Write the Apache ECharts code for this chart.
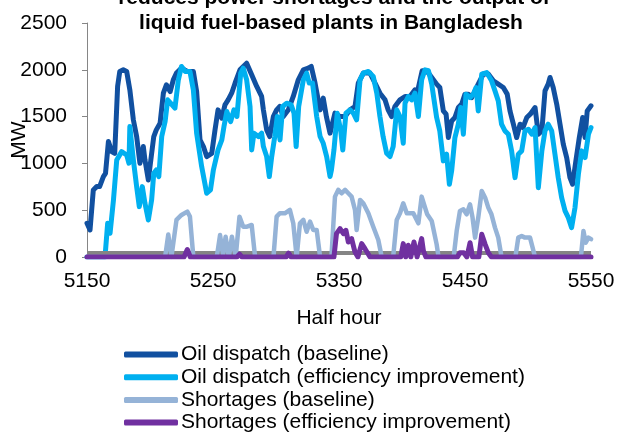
<!DOCTYPE html>
<html>
<head>
<meta charset="utf-8">
<script src="https://cdn.jsdelivr.net/npm/echarts@6/dist/echarts.min.js"></script>
<style>
  html, body { margin: 0; padding: 0; background: #fff; }
  #chart { width: 617px; height: 432px; }
</style>
</head>
<body>
<div id="chart"></div>
<script>
// half-hour index / MW
const oilBaseHH = [5150,5152.4,5155,5157.7,5160,5163,5164.7,5167,5169.6,5172,5174.3,5176,5178.8,5181.5,5184,5186.8,5189.4,5192,5194.7,5196,5198.7,5201,5203,5205,5208,5210.6,5213,5216,5218.5,5221,5225,5229.6,5234.4,5237,5239.7,5242.4,5245,5249,5251.6,5254,5257,5259.5,5262,5264.8,5267.5,5271.4,5276.7,5280.7,5284.7,5288.6,5290,5292.6,5295,5297.9,5300.5,5303,5305.8,5309.8,5313.7,5317.7,5321.7,5325.6,5328,5331,5335,5337.5,5340,5342.9,5346.8,5350.8,5354.8,5358.7,5362.7,5365.3,5369.3,5374.6,5378.6,5382.5,5386.5,5389,5391.8,5394.4,5398.4,5402.4,5406.3,5410.3,5412,5416,5419.6,5423.6,5427.5,5430,5432.8,5435,5436.8,5439.4,5442,5444.7,5447.4,5450,5452.6,5455.4,5458,5460.5,5464.5,5468.5,5472.5,5476.4,5480.4,5483.5,5485.7,5488.4,5491,5493.7,5496,5499,5501.8,5505.6,5508.2,5511,5513.5,5516,5517.5,5520,5522.8,5525.4,5528,5530.7,5533.3,5535.4,5538,5540.7,5543.4,5545.3,5547,5550];
const oilBaseMW = [360,289,716,752,752,859,894,1233,1126,1108,1822,1982,2000,1982,1786,1465,1287,1002,1180,1037,823,1073,1287,1358,1430,1750,1840,1768,1893,1965,2018,1982,1982,1768,1251,1180,1073,1108,1358,1572,1483,1626,1679,1750,1857,2000,2071,1947,1822,1715,1572,1358,1287,1500,1572,1608,1500,1572,1715,1893,2000,2018,2036,1858,1572,1697,1500,1323,1537,1500,1500,1572,1608,1858,1965,1965,1858,1750,1679,1572,1500,1608,1679,1715,1715,1786,1750,1990,1990,1918,1847,1811,1561,1526,1276,1454,1490,1597,1633,1740,1740,1704,1775,1847,1954,1954,1882,1847,1811,1740,1561,1419,1276,1419,1383,1490,1526,1597,1312,1347,1775,1847,1918,1811,1633,1419,1205,1062,848,777,1027,1276,1490,1276,1561,1615];

const oilEffHH = [5150,5164.3,5166.4,5168.3,5171,5173.6,5177.5,5181.5,5183.3,5184,5186.8,5189.4,5191.5,5193.9,5196,5198.7,5201.3,5203,5205,5207,5209.3,5212,5214,5216.4,5219.8,5222.5,5225,5228,5231.7,5234.4,5237,5241,5245,5248,5250.3,5254,5257,5258.7,5261,5264,5266.6,5269,5272,5274,5276.7,5279.4,5280.7,5282.5,5286,5288.6,5290,5292.6,5294.7,5296.6,5299,5301,5303.2,5305.3,5308.5,5312,5314.3,5316,5318,5321.7,5324.3,5326.4,5329,5332.3,5335,5337.5,5340.2,5342.9,5344,5346,5348.6,5351.3,5353,5355.5,5358.7,5361.4,5364,5366.7,5369.3,5373.3,5377.2,5380,5382.5,5385,5387.8,5390.5,5393,5395.8,5398.4,5401,5402.4,5405,5407.6,5410.3,5413,5415.6,5418.3,5421,5423.6,5427.5,5430,5432.8,5435.4,5437.6,5439.4,5442,5444.7,5446.6,5448.7,5450.8,5454,5456.6,5458.8,5460.5,5463.3,5467.2,5471.1,5473.8,5476.4,5479,5481.7,5484.4,5487,5489.7,5492.3,5495,5497.6,5500.3,5503,5505.6,5508.2,5511,5513.5,5516,5518.8,5521.4,5524,5526.7,5529.4,5532,5534.6,5537.3,5540,5542.6,5545.3,5548,5550];
const oilEffMW = [0,0,360,253,610,1037,1126,1090,1002,1394,1037,752,538,752,574,396,610,895,930,859,1287,1447,1679,1643,1590,1893,2036,1982,1982,1786,1323,966,681,717,930,1144,1251,1394,1554,1447,1572,1501,1965,2018,1893,1608,1144,1323,1287,1323,1180,1073,859,1073,1287,1500,1251,1608,1643,1626,1537,1180,1608,1893,1965,1858,1858,1500,1287,1215,1073,859,930,1144,1537,1358,1144,1537,1572,1537,1465,1893,1965,1982,1929,1750,1500,1287,1109,1073,1180,1572,1500,1216,1643,1715,1679,1750,1500,1893,2000,1990,1847,1490,1347,1027,1098,777,920,1276,1419,1597,1312,1740,1704,1740,1811,1561,1954,1971,1882,1775,1668,1419,1347,1312,1134,848,1098,1134,1347,1365,1312,1383,741,1134,1347,1419,1347,1098,848,634,492,420,314,528,884,1134,1062,1312,1383];

const shortBaseHH = [5150,5212,5214.5,5217,5221,5225,5229.6,5231.7,5234.4,5253,5255.6,5258,5260,5262.6,5265,5268,5271,5274,5277,5280.7,5283.4,5298,5300.5,5303,5307,5311,5313.7,5316.4,5319,5321.7,5324.3,5327,5329.6,5332.3,5335,5344,5346.8,5349.4,5352,5354.8,5357.4,5360,5362.7,5364,5366.7,5369.3,5373.3,5377.2,5381.2,5383.9,5393,5395.8,5398.4,5401,5403.8,5409,5413,5415.6,5418,5420,5423.6,5427.5,5429,5441,5443.4,5446,5448.7,5451.3,5454,5456,5458,5460.5,5463.3,5466,5468.5,5471,5473.8,5476.4,5479,5490,5492.3,5495,5497.6,5501.6,5505.6,5542,5544,5545.8,5548,5550];
const shortBaseMW = [0,0,240,0,396,449,485,432,0,0,235,20,217,0,217,0,431,324,324,342,0,0,431,467,467,503,360,0,360,396,270,378,288,288,0,0,645,717,681,717,681,645,503,288,610,574,467,324,181,0,0,396,467,574,467,467,360,645,540,456,385,135,0,0,278,492,510,456,563,420,207,420,706,634,528,456,314,207,0,0,207,225,207,207,0,0,278,153,207,190];

const shortEffHH = [5150,5227,5229.6,5232,5269,5271,5273,5308,5310,5312,5346,5348,5350.8,5353.5,5355.5,5357.4,5360,5362.7,5365,5368,5370.6,5374.6,5399,5401,5403,5405,5407,5409.5,5412,5415.6,5417,5419,5444,5446,5449,5451.5,5454,5456,5461,5463.3,5466,5468.5,5471,5550];
const shortEffMW = [0,0,80,0,0,30,0,0,40,0,0,250,303,250,285,160,196,53,0,143,89,0,0,143,0,125,0,160,0,196,64,0,0,46,46,0,153,0,0,242,135,46,0,0];

const seriesNames = [
  "Oil dispatch (baseline)",
  "Oil dispatch (efficiency improvement)",
  "Shortages (baseline)",
  "Shortages (efficiency improvement)"
];
const seriesColors = ["#1150a0", "#00b0f0", "#95b3d7", "#7030a0"];
const xTicks = [5150, 5550, 100];
const yTicks = [0, 2500, 500];

const zip = (xs, ys) => xs.map((x, i) => [x, ys[i]]);
const seriesData = [
  zip(oilBaseHH, oilBaseMW),
  zip(oilEffHH, oilEffMW),
  zip(shortBaseHH, shortBaseMW),
  zip(shortEffHH, shortEffMW)
];

const font = "Liberation Sans, Arial, sans-serif";
const chart = echarts.init(document.getElementById("chart"));

const series = seriesNames.map((name, i) => ({
  name,
  type: "line",
  data: seriesData[i],
  color: seriesColors[i],
  symbol: "none",
  lineStyle: { width: i === 2 ? 4.5 : 5, join: "round", cap: "round" },
  z: 3 + i
}));

// grey line along the bottom of the plot
series[0].markLine = {
  silent: true,
  symbol: "none",
  label: { show: false },
  lineStyle: { color: "#858585", width: 4, type: "solid" },
  data: [{ yAxis: 50 }]
};

chart.setOption({
  animation: false,
  backgroundColor: "#fff",
  grid: { left: 87, right: 26, top: 23, bottom: 175, outerBoundsMode: "none", containLabel: false },
  graphic: [
    {
      type: "text", x: 334, y: -2,
      style: { text: "reduces power shortages and the output of", font: "bold 21px " + font, fill: "#000", align: "center", verticalAlign: "middle" }
    },
    {
      type: "text", x: 331, y: 23,
      style: { text: "liquid fuel-based plants in Bangladesh", font: "bold 21px " + font, fill: "#000", align: "center", verticalAlign: "middle" }
    }
  ],
  legend: {
    orient: "vertical",
    left: 119,
    top: 339,
    height: 100,
    itemWidth: 54,
    itemHeight: 6,
    itemGap: 1.7,
    icon: "roundRect",
    textStyle: { fontFamily: font, fontSize: 21, lineHeight: 21, color: "#000", padding: [0, 0, 0, -2] },
    data: seriesNames
  },
  xAxis: {
    type: "value",
    min: xTicks[0],
    max: xTicks[1],
    interval: xTicks[2],
    name: "Half hour",
    nameLocation: "middle",
    nameGap: 51,
    nameTextStyle: { fontFamily: font, fontSize: 21, color: "#000" },
    axisLine: { show: false },
    axisTick: { show: false },
    splitLine: { show: false },
    axisLabel: { fontFamily: font, fontSize: 21, color: "#000", margin: 14, formatter: (v) => String(v) }
  },
  yAxis: {
    type: "value",
    min: yTicks[0],
    max: yTicks[1],
    interval: yTicks[2],
    name: "MW",
    nameLocation: "middle",
    nameGap: 57,
    nameRotate: 90,
    nameMoveOverlap: false,
    nameTextStyle: { fontFamily: font, fontSize: 21, color: "#000" },
    axisLine: { show: true, lineStyle: { color: "#868686", width: 1 } },
    axisTick: { show: true, length: 5, lineStyle: { color: "#868686" } },
    splitLine: { show: false },
    axisLabel: { fontFamily: font, fontSize: 21, color: "#000", margin: 20, formatter: (v) => String(v) }
  },
  series
});
</script>
</body>
</html>
